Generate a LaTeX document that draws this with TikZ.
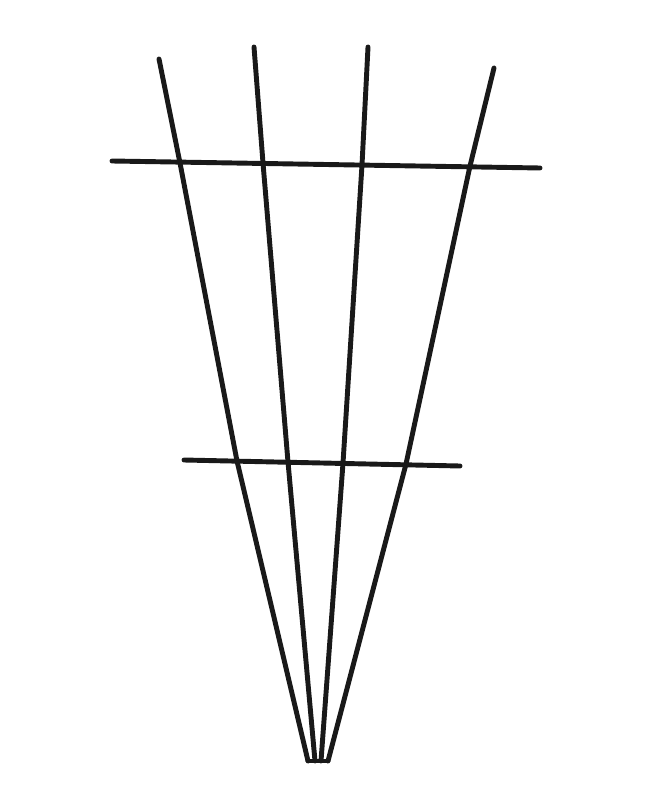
\documentclass[tikz,border=0pt]{standalone}
\usepackage{tikz}

\begin{document}
\begin{tikzpicture}[
                x=0.02cm, y=-0.02cm,          % pixel grid, y downwards
                rod/.style={line width=2.8pt, line cap=round, line join=round, black!90}
            ]
                \useasboundingbox (0,0) rectangle (660,800);

                % fan rods: top ends
                \coordinate (t1) at (159,59);
                \coordinate (t2) at (254,47);
                \coordinate (t3) at (368,47);
                \coordinate (t4) at (494,68);
                % fan rods: where they meet the upper bar
                \coordinate (u1) at (180,163);
                \coordinate (u2) at (263,163);
                \coordinate (u3) at (362,165);
                \coordinate (u4) at (470,166);
                % fan rods: where they meet the lower bar
                \coordinate (l1) at (237,461);
                \coordinate (l2) at (288,462);
                \coordinate (l3) at (343,463);
                \coordinate (l4) at (406,464);
                % fan rods: foot
                \coordinate (b1) at (308,761);
                \coordinate (b2) at (315,761);
                \coordinate (b3) at (321,761);
                \coordinate (b4) at (328,761);

                % cross bars
                \coordinate (ul) at (112,161);
                \coordinate (ur) at (540,168);
                \coordinate (ll) at (184,460);
                \coordinate (lr) at (460,466);

                % rods
                \foreach \i in {1,...,4}
                    \draw[rod] (t\i) -- (u\i) -- (l\i) -- (b\i);
                \draw[rod] (b1) -- (b4);

                % bars
                \draw[rod] (ul) -- (ur);
                \draw[rod] (ll) -- (lr);
            \end{tikzpicture}
\end{document}
